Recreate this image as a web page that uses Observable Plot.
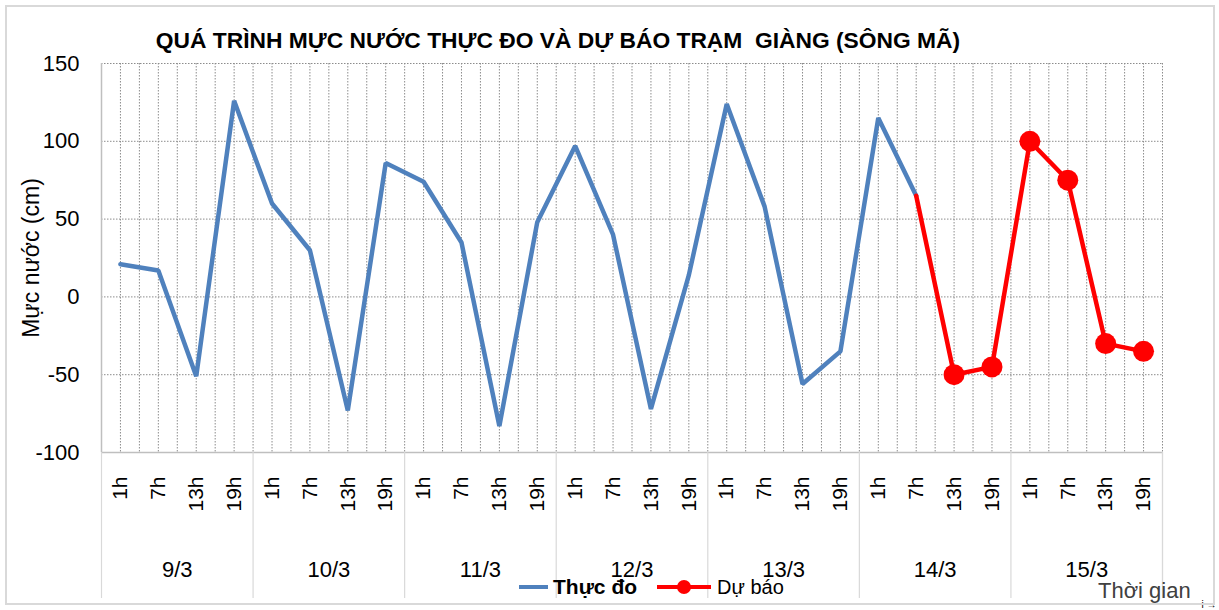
<!DOCTYPE html>
<html><head><meta charset="utf-8">
<script src="https://cdn.jsdelivr.net/npm/d3@7"></script>
<script src="https://cdn.jsdelivr.net/npm/@observablehq/plot@0.6"></script>
<style>
body{margin:0;background:#fff;font-family:"Liberation Sans",Arial,sans-serif}
#wrap{position:relative;width:1219px;height:610px;overflow:hidden;background:#fff}
#frame{position:absolute;left:5px;top:5px;width:1210px;height:600px;border:2px solid #d9d9d9;box-sizing:border-box;pointer-events:none}
#chart{position:absolute;left:0;top:0}
.t{position:absolute;white-space:nowrap;color:#000}
#title{left:0;width:1116px;top:27px;text-align:center;font-weight:bold;font-size:22.8px}
#ylab{left:31px;top:258px;font-size:23px;transform:translate(-50%,-50%) rotate(-90deg)}
#xlab{left:1098px;top:578px;font-size:22px;color:#404040}
.leg{position:absolute;top:574px;height:26px;display:flex;align-items:center}
.sw{position:relative;width:29px;height:4px}
.sw i{position:absolute;left:8px;top:-5px;width:14px;height:14px;border-radius:50%;background:#ff0000}
</style></head>
<body>
<div id="wrap">
  <div id="chart"></div>
  <div id="title" class="t">QUÁ TRÌNH MỰC NƯỚC THỰC ĐO VÀ DỰ BÁO TRẠM&nbsp; GIÀNG (SÔNG MÃ)</div>
  <div id="ylab" class="t">Mực nước (cm)</div>
  <div id="xlab" class="t">Thời gian</div>
  <div class="leg" style="left:519px"><div class="sw" style="background:#4F81BD"></div><span style="margin-left:5px;font-size:21px;font-weight:bold">Thực đo</span></div>
  <div class="leg" style="left:657px"><div class="sw" style="background:#ff0000;width:54px"><i style="left:20px"></i></div><span style="margin-left:6px;font-size:20px">Dự báo</span></div>
  <div id="frame"></div>
</div>
<script>
const days = ["9/3","10/3","11/3","12/3","13/3","14/3","15/3"];
const hours = ["1h","7h","13h","19h"];
const yTicks = [-100,-50,0,50,100,150];
// Observed (Thực đo) and forecast (Dự báo) water levels, cm, one per category (null = none)
const observed = [21,17,-51,126, 60,30,-73,86, 74,35,-83,48, 97,40,-72,14, 124,58,-56,-35, 115,65, null,null, null,null,null,null];
const forecast = [null,null,null,null, null,null,null,null, null,null,null,null, null,null,null,null, null,null,null,null, null,65, -50,-45, 100,75,-30,-35];

const cats = [];
days.forEach((d,di)=>hours.forEach((h,hi)=>{
  const i = di*hours.length+hi;
  cats.push({i, day:d, hour:h, obs:observed[i], fc:forecast[i]});
}));
const n = cats.length;
const markers = cats.filter(c => c.fc != null && c.obs == null);
const halfSteps = d3.range(-0.5, n, 0.5);
const dayBounds = d3.range(-0.5, n, hours.length);
const dayCenters = days.map((d,di)=>di*hours.length + (hours.length-1)/2);

const grid = {stroke:"#8c8c8c", strokeOpacity:1, strokeDasharray:"1.5,1.5", strokeWidth:1};

const chart = Plot.plot({
  width:1219, height:610,
  marginLeft:101, marginRight:57, marginTop:63, marginBottom:158,
  style:{fontFamily:"'Liberation Sans', Arial, sans-serif", color:"#000", background:"transparent"},
  x:{domain:[-0.5, n-0.5]},
  y:{domain:[-100,150]},
  marks:[
    Plot.gridX(halfSteps.slice(1), grid),
    Plot.gridY(yTicks.slice(1), grid),
    Plot.ruleY([-100], {stroke:"#bfbfbf", strokeWidth:1.5}),
    Plot.ruleX([-0.5], {stroke:"#bfbfbf", strokeWidth:1.5}),
    Plot.axisX(dayBounds.concat([n-0.5]), {tickSize:146, tickFormat:()=>"", stroke:"#d9d9d9", strokeWidth:1.2}),
    Plot.axisX(d3.range(n), {tickFormat:i=>cats[i].hour, tickRotate:-90, tickSize:0, tickPadding:24, fontSize:21, label:null}),
    Plot.axisX(dayCenters, {tickFormat:v=>days[dayCenters.indexOf(v)], tickSize:0, tickPadding:109, fontSize:22, label:null}),
    Plot.axisY(yTicks, {tickSize:0, tickPadding:22, fontSize:22, label:null, tickFormat:d=>String(d)}),
    Plot.line(cats, {x:"i", y:"obs", stroke:"#4F81BD", strokeWidth:4.5, strokeLinejoin:"miter"}),
    Plot.line(cats, {x:"i", y:"fc", stroke:"#ff0000", strokeWidth:4.5, strokeLinejoin:"round"}),
    Plot.dot(markers, {x:"i", y:"fc", r:10.5, fill:"#ff0000", stroke:"none"})
  ]
});
document.getElementById("chart").appendChild(chart);
</script>
</body></html>
